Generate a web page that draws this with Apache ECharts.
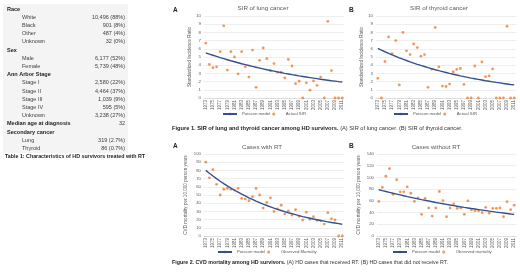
<!DOCTYPE html>
<html><head><meta charset="utf-8">
<script src="https://cdn.jsdelivr.net/npm/echarts@6/dist/echarts.min.js"></script>
<style>html,body{margin:0;padding:0;background:#fff}#c{width:520px;height:276px}</style>
</head><body><div id="c"></div>
<script>
const years = ['1973','1974','1975','1976','1977','1978','1979','1980','1981','1982','1983','1984','1985','1986','1987','1988','1989','1990','1991','1992','1993','1994','1995','1996','1997','1998','1999','2000','2001','2002','2003','2004','2005','2006','2007','2008','2009','2010','2011'];

const lungActual = [6.7,4.1,3.7,3.8,5.65,8.8,3.4,5.65,5.0,2.95,5.65,3.8,2.55,5.85,1.3,4.6,6.1,4.8,3.35,4.2,3.15,3.15,2.45,4.7,3.9,1.75,2.05,0,1.85,0.95,2.1,1.55,2.55,0,9.35,3.35,0,0,0];
const lungModel = [5.50,5.35,5.21,5.07,4.93,4.80,4.67,4.54,4.42,4.30,4.18,4.07,3.96,3.85,3.75,3.65,3.55,3.45,3.36,3.27,3.18,3.10,3.01,2.93,2.85,2.78,2.70,2.63,2.56,2.49,2.42,2.36,2.29,2.23,2.17,2.11,2.06,2.00,1.95];

const thyroidActual = [2.4,0,4.45,7.45,5.4,7.0,1.6,8.0,5.75,5.3,6.6,6.15,5.1,5.3,1.3,3.5,8.6,3.8,1.45,1.4,1.7,3.2,3.5,3.6,1.65,0,0,3.9,0,4.4,2.6,2.7,3.55,0,0,0,8.75,0,0];
const thyroidModel = [6.05,5.84,5.64,5.45,5.26,5.08,4.90,4.73,4.57,4.41,4.26,4.11,3.97,3.84,3.70,3.58,3.45,3.33,3.22,3.11,3.00,2.90,2.80,2.70,2.61,2.52,2.43,2.35,2.27,2.19,2.11,2.04,1.97,1.90,1.84,1.77,1.71,1.65,1.60];

const rtObserved = [90,71,81,63,50,57,58,57,56,58,46,45,43,48,58,50,34,41,46.5,30,33,37.5,27,30.5,25.5,32,24,19.5,29,20.5,23.5,19,18.5,14.5,28.5,21,19.5,0,0];
const rtModel = [80.0,76.5,73.1,69.9,66.8,63.9,61.1,58.4,55.8,53.4,51.0,48.8,46.6,44.6,42.6,40.7,38.9,37.2,35.6,34.0,32.5,31.1,29.7,28.4,27.2,26.0,24.8,23.7,22.7,21.7,20.7,19.8,18.9,18.1,17.3,16.5,15.8,15.1,14.4];

const noRtObserved = [59,83,102,115,71,96,75.5,75.5,84,73,59,65,37,64,48,34,48,76,60.5,33,48,55,47,48,37,60,45,43,43,40,49,39,47,47,48,33,58.5,45,52.5];
const noRtModel = [79.0,77.4,75.9,74.4,72.9,71.5,70.1,68.7,67.3,66.0,64.7,63.4,62.1,60.9,59.7,58.5,57.3,56.2,55.1,54.0,52.9,51.9,50.8,49.8,48.8,47.9,46.9,46.0,45.1,44.2,43.3,42.4,41.6,40.8,40.0,39.2,38.4,37.6,36.9];

const tableLabels = ['Race','White','Black','Other','Unknown','Sex','Male','Female','Ann Arbor Stage','Stage I','Stage II','Stage III','Stage IV','Unknown','Median age at diagnosis','Secondary cancer','Lung','Thyroid'];
const tableValues = ['','10,496 (88%)','901 (8%)','487 (4%)','32 (0%)','','6,177 (52%)','5,739 (48%)','','2,580 (22%)','4,464 (37%)','1,039 (9%)','595 (5%)','3,238 (27%)','32','','319 (2.7%)','86 (0.7%)'];
const tableHeader = [1,0,0,0,0,1,0,0,1,0,0,0,0,0,1,1,0,0];

const FONT = 'Liberation Sans';
const GREY = '#595959';
const BLUE = '#34508F';
const ORANGE = '#ED7D31';

const chart = echarts.init(document.getElementById('c'));

const grids = [
  {left:204, top:16, width:140, height:82},
  {left:376, top:16, width:140, height:82},
  {left:204, top:154, width:140, height:82},
  {left:377, top:154, width:139, height:82}
];
const yAxisCfg = [
  {max:10, interval:1, name:'Standardized Incidence Ratio'},
  {max:10, interval:1, name:'Standardized Incidence Ratio'},
  {max:100, interval:10, name:'CVD mortality per 10,000 person years'},
  {max:140, interval:20, name:'CVD mortality per 10,000 person years'}
];

const xAxes = grids.map((g,i)=>({
  type:'category', gridIndex:i, data:years, boundaryGap:true,
  axisTick:{show:false},
  axisLine:{lineStyle:{color:'#d9d9d9', width:0.8}},
  axisLabel:{interval:1, rotate:90, fontSize:4.5, color:GREY, fontFamily:FONT, margin:2}
}));
const yAxes = yAxisCfg.map((c,i)=>({
  type:'value', gridIndex:i, min:0, max:c.max, interval:c.interval,
  name:c.name, nameLocation:'middle', nameRotate:90, nameGap: i>=2?16:12,
  nameTextStyle:{fontSize:4.6, color:GREY, fontFamily:FONT},
  axisLine:{show:false}, axisTick:{show:false},
  axisLabel:{fontSize:4.3, color:GREY, fontFamily:FONT, margin:3},
  splitLine:{lineStyle:{color:'#e3e3e3', width:0.6}}
}));

const sets = [
  [lungModel, lungActual, 'Actual SIR'],
  [thyroidModel, thyroidActual, 'Actual SIR'],
  [rtModel, rtObserved, 'Observed Mortality'],
  [noRtModel, noRtObserved, 'Observed mortality']
];
const series = [];
sets.forEach((s,i)=>{
  series.push({type:'line', name:'Poisson model', xAxisIndex:i, yAxisIndex:i, data:s[0],
    symbol:'none', lineStyle:{color:BLUE, width:1.4}, itemStyle:{color:BLUE}, silent:true, animation:false});
  series.push({type:'scatter', name:s[2], xAxisIndex:i, yAxisIndex:i, data:s[1],
    symbol:'circle', symbolSize:2.8, itemStyle:{color:ORANGE}, clip:false, animation:false});
});

const legendPos = [[222,112],[393,112],[217,250],[392,250]];
const legends = sets.map((s,i)=>({
  left:legendPos[i][0], top:legendPos[i][1], itemWidth:14, itemHeight:3, itemGap:2, padding:0,
  data:['Poisson model', s[2]], selectedMode:false,
  textStyle:{fontSize:4.3, color:GREY, fontFamily:FONT}
}));

const graphics = [];
graphics.push({type:'rect', shape:{x:3, y:4, width:125, height:149}, style:{fill:'#f4f4f4'}, silent:true});
tableLabels.forEach((lab,i)=>{
  const y = 9 + i*8.2;
  const hdr = tableHeader[i]===1;
  graphics.push({type:'text', x: hdr?7:22, y:y, style:{text:lab, fill: hdr?'#222':'#404040',
    fontSize:5.5, fontWeight: hdr?'bold':'normal', fontFamily:FONT, verticalAlign:'middle'}});
  if (tableValues[i]) graphics.push({type:'text', x:125, y:y, style:{text:tableValues[i], fill:'#404040',
    fontSize:5.5, fontFamily:FONT, align:'right', verticalAlign:'middle'}});
});
graphics.push({type:'text', x:5, y:157, style:{text:'Table 1: Characteristics of HD survivors treated with RT',
  fill:'#222', fontSize:5.3, fontWeight:'bold', fontFamily:FONT, verticalAlign:'middle'}});

const titles = [['SIR of lung cancer',263,8],['SIR of thyroid cancer',439,8],['Cases with RT',262,147],['Cases without RT',436,147]];
titles.forEach(t=>graphics.push({type:'text', x:t[1], y:t[2], style:{text:t[0], fill:GREY, fontSize:6.2, fontFamily:FONT, align:'center', verticalAlign:'middle'}}));
const letters = [['A',173,10],['B',349,10],['A',173,146],['B',349,146]];
letters.forEach(t=>graphics.push({type:'text', x:t[1], y:t[2], style:{text:t[0], fill:'#222', fontSize:6.5, fontWeight:'bold', fontFamily:FONT, verticalAlign:'middle'}}));

graphics.push({type:'text', x:172, y:128, style:{
  text:'{b|Figure 1. SIR of lung and thyroid cancer among HD survivors.} (A) SIR of lung cancer. (B) SIR of thyroid cancer.',
  fill:'#333', fontSize:5.7, fontFamily:FONT, verticalAlign:'middle',
  rich:{b:{fontWeight:'bold', fontSize:5.7, fontFamily:FONT, fill:'#222'}}}});
graphics.push({type:'text', x:172, y:263, style:{
  text:'{b|Figure 2. CVD mortality among HD survivors.} (A) HD cases that received RT. (B) HD cases that did not receive RT.',
  fill:'#333', fontSize:5.3, fontFamily:FONT, verticalAlign:'middle',
  rich:{b:{fontWeight:'bold', fontSize:5.3, fontFamily:FONT, fill:'#222'}}}});

chart.setOption({
  animation:false,
  grid:grids, xAxis:xAxes, yAxis:yAxes, series:series, legend:legends, graphic:graphics
});
</script>
</body></html>
